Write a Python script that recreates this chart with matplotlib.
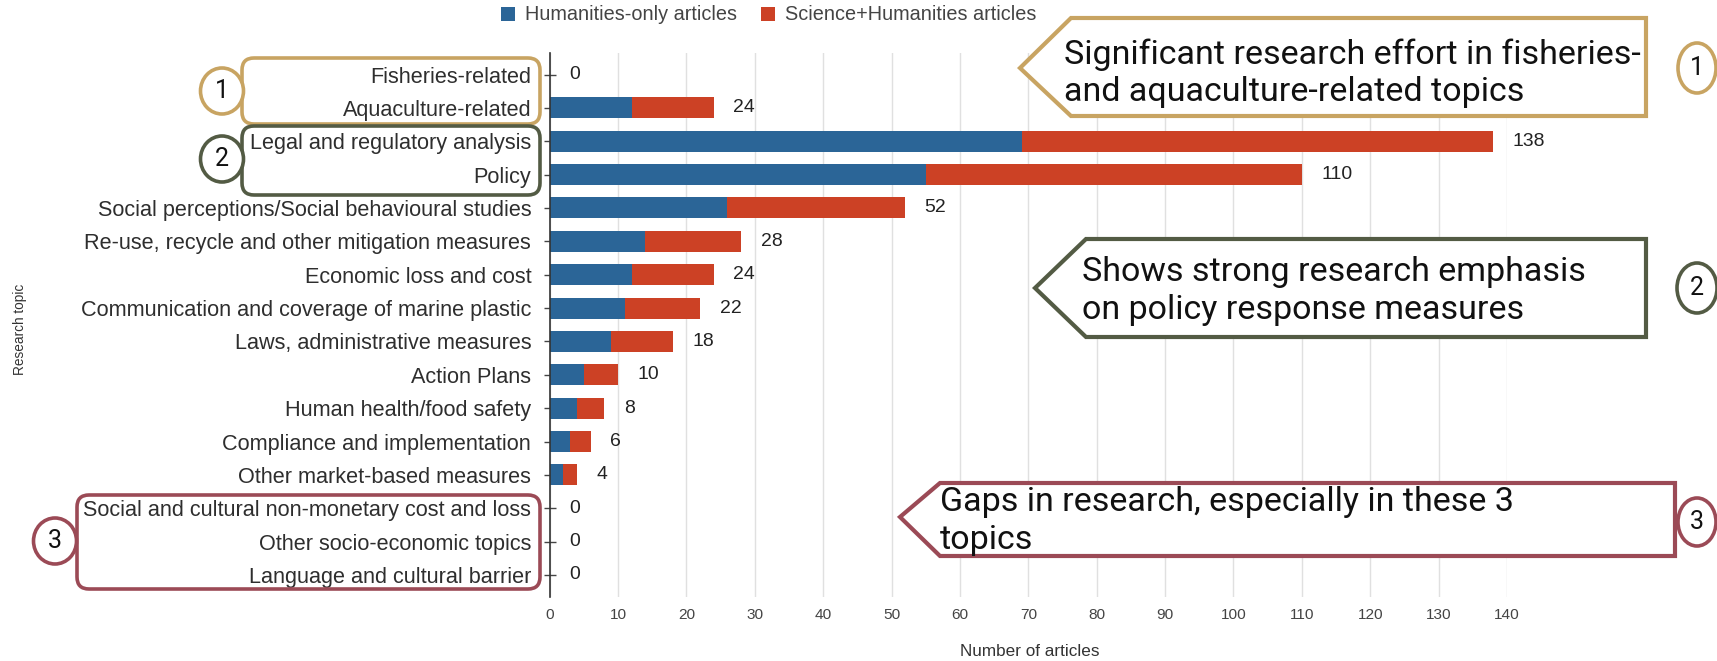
import matplotlib
matplotlib.use("Agg")
import matplotlib.pyplot as plt
from matplotlib import font_manager
from matplotlib.patches import Polygon, Ellipse, FancyBboxPatch
from matplotlib.transforms import Affine2D

# data
topics = ["Fisheries-related", "Aquaculture-related", "Legal and regulatory analysis", "Policy",
          "Social perceptions/Social behavioural studies", "Re-use, recycle and other mitigation measures",
          "Economic loss and cost", "Communication and coverage of marine plastic",
          "Laws, administrative measures", "Action Plans", "Human health/food safety",
          "Compliance and implementation", "Other market-based measures",
          "Social and cultural non-monetary cost and loss", "Other socio-economic topics",
          "Language and cultural barrier"]
humanities_only = [0, 12, 69, 55, 26, 14, 12, 11, 9, 5, 4, 3, 2, 0, 0, 0]
science_humanities = [0, 12, 69, 55, 26, 14, 12, 11, 9, 5, 4, 3, 2, 0, 0, 0]
totals = [a + b for a, b in zip(humanities_only, science_humanities)]
x_ticks = list(range(0, 150, 10))

blue = "#2b6597"
red = "#cc4125"
gold = "#c8a462"
olive = "#535b44"
maroon = "#9b4a56"

# fonts
names = {f.name for f in font_manager.fontManager.ttflist}
if "Liberation Sans Narrow" in names:
    lab_font, k = "Liberation Sans Narrow", 1.0
else:
    lab_font, k = "Liberation Sans", 0.82
note_font = "Roboto"

W, H = 1717, 661
fig = plt.figure(figsize=(W / 100, H / 100), dpi=100)
# pixel coords, origin top-left
px = Affine2D().scale(1 / 100, -1 / 100).translate(0, H / 100) + fig.dpi_scale_trans

ax = fig.add_axes([549.7 / W, 1 - 597 / H, (1507 - 549.7) / W, (597 - 52.5) / H])
y = list(range(len(topics)))
ax.barh(y, humanities_only, height=0.63, color=blue, label="Humanities-only articles", zorder=3)
ax.barh(y, science_humanities, left=humanities_only, height=0.63, color=red,
        label="Science+Humanities articles", zorder=3)
for i, t in enumerate(totals):
    ax.annotate(str(t), (t, i), xytext=(14, 0), textcoords="offset points", ha="left", va="center",
                fontsize=17 * k, family=lab_font, color="#222222", annotation_clip=False)

ax.set_ylim(len(topics) - 1 + 0.66, -0.66)
ax.set_xlim(0, 140)
ax.set_xticks(x_ticks)
ax.set_yticks(y)
ax.set_yticklabels(topics, fontsize=19 * k, family=lab_font, color="#2e2e2e")
ax.tick_params(axis="y", direction="inout", length=8.6, width=1, color="#444444", pad=9)
ax.tick_params(axis="x", length=0, pad=8, labelsize=13.5 * k, labelcolor="#444444")
for lb in ax.get_xticklabels():
    lb.set_family(lab_font)
ax.grid(axis="x", color="#e0e0e0", lw=1, zorder=0)
for s in ["top", "right", "bottom"]:
    ax.spines[s].set_visible(False)
ax.spines["left"].set_color("#333333")
ax.spines["left"].set_linewidth(1.2)
ax.spines["left"].set_zorder(4)

fig.text(1030, 652, "Number of articles", transform=px, ha="center", va="center",
         fontsize=15 * k, family=lab_font, color="#333333")
fig.text(20, 329, "Research topic", transform=px, ha="center", va="center", rotation=90,
         fontsize=12 * k, family=lab_font, color="#333333")

leg = fig.legend(loc="center", bbox_to_anchor=(769 / W, 1 - 15 / H), ncol=2, frameon=False,
                 handlelength=0.7, handleheight=0.7, handletextpad=0.5, columnspacing=1.2,
                 prop={"family": lab_font, "size": 17.5 * k})
for t in leg.get_texts():
    t.set_color("#444444")

# left group boxes
for x0, y0, x1, y1, c in [(242, 58, 540, 124, gold), (242, 126, 540, 195, olive), (77, 495, 540, 589, maroon)]:
    fig.add_artist(FancyBboxPatch((x0, y0), x1 - x0, y1 - y0, boxstyle="round,pad=0,rounding_size=12",
                                  transform=px, fill=False, ec=c, lw=2.6))

# numbered circles
for cx, cy, w, h, c, n in [(222, 91, 43, 46, gold, "1"), (222, 159, 43, 46, olive, "2"),
                           (55, 541, 43, 46, maroon, "3"), (1697, 68, 38, 50, gold, "1"),
                           (1697, 288, 40, 50, olive, "2"), (1697, 522, 38, 48, maroon, "3")]:
    fig.add_artist(Ellipse((cx, cy), w, h, transform=px, fc="white", ec=c, lw=2.6))
    fig.text(cx, cy, n, transform=px, ha="center", va="center", fontsize=18, family=note_font,
             color="#111111")

# callout arrows
callouts = [
    ((1020, 68), 1071, 1646, 18, 116, gold,
     "Significant research effort in fisheries-\nand aquaculture-related topics", 1064, 73),
    ((1035, 288), 1086, 1646, 239, 337, olive,
     "Shows strong research emphasis\non policy response measures", 1082, 291),
    ((900, 517), 940, 1675, 483, 556, maroon,
     "Gaps in research, especially in these 3\ntopics", 940, 521),
]
for tip, x0, x1, y0, y1, c, txt, tx, ty in callouts:
    fig.add_artist(Polygon([tip, (x0, y0), (x1, y0), (x1, y1), (x0, y1)], closed=True, transform=px,
                           fc="white", ec=c, lw=3, zorder=5))
    fig.text(tx, ty, txt, transform=px, ha="left", va="center", fontsize=24.5, family=note_font,
             color="#111111", linespacing=1.2, zorder=6)

fig.savefig("out.png", dpi=100)
